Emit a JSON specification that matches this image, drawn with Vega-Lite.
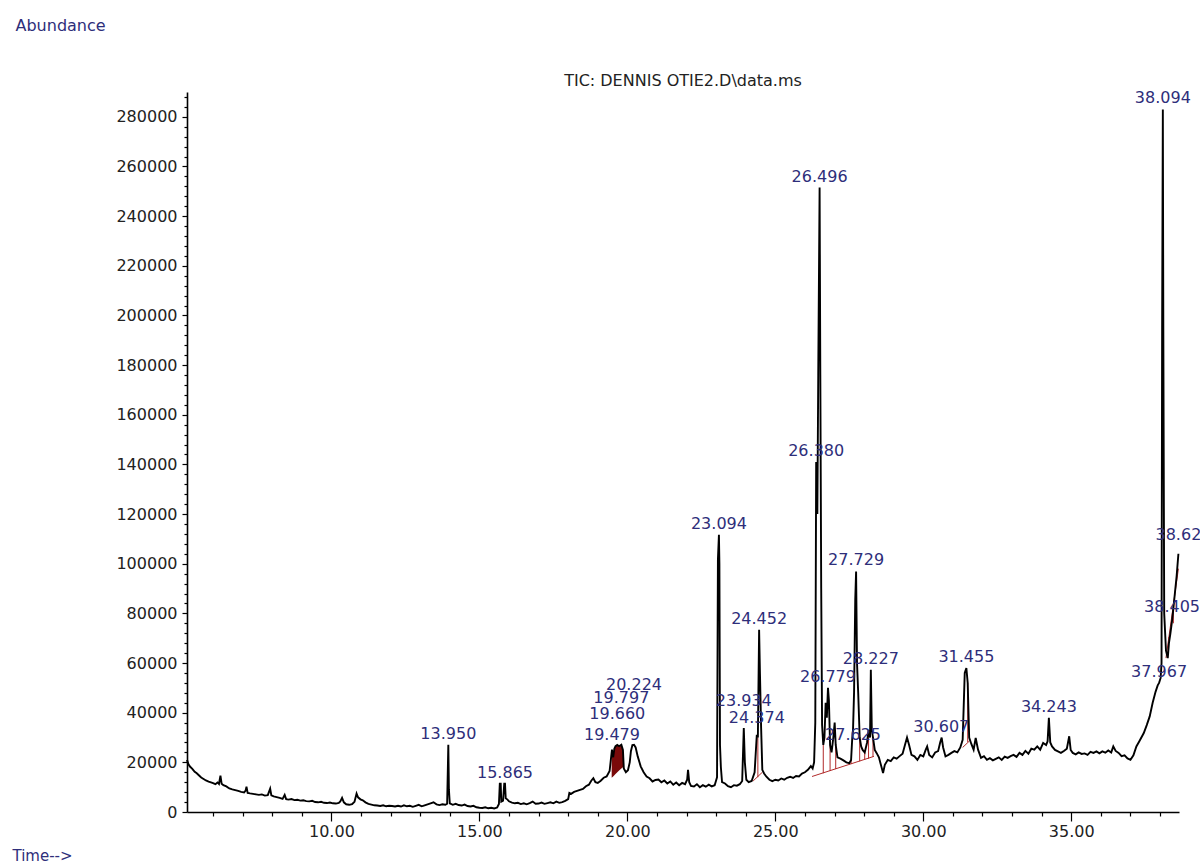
{
"$schema":"https://vega.github.io/schema/vega-lite/v6.json",
"width":992,"height":720,
"autosize":{"type":"none"},
"padding":{"left":187,"top":92,"right":21,"bottom":49},
"background":"white",
"config":{"view":{"stroke":null},"font":"DejaVu Sans","axis":{"grid":false,"domainColor":"#000","tickColor":"#000","labelColor":"#222","labelFont":"DejaVu Sans","titleFont":"DejaVu Sans"}},
"title":{"text":"TIC: DENNIS OTIE2.D\\data.ms","fontSize":16,"fontWeight":"normal","color":"#222","anchor":"middle","offset":4,"dy":76,"font":"DejaVu Sans"},
"datasets":{
"tic":[
{"t":5.12,"v":21000},{"t":5.17,"v":19200},{"t":5.22,"v":18300},{"t":5.3,"v":17400},{"t":5.38,"v":16200},{"t":5.45,"v":15600},{"t":5.52,"v":14800},{"t":5.6,"v":13900},{"t":5.68,"v":13300},{"t":5.76,"v":12700},{"t":5.85,"v":12200},{"t":5.93,"v":11900},{"t":6.0,"v":11600},{"t":6.08,"v":11200},{"t":6.15,"v":11900},{"t":6.2,"v":11300},{"t":6.25,"v":14600},{"t":6.29,"v":11400},{"t":6.35,"v":10800},{"t":6.45,"v":10300},{"t":6.55,"v":9500},{"t":6.65,"v":9100},{"t":6.75,"v":8800},{"t":6.85,"v":8500},{"t":6.95,"v":8100},{"t":7.05,"v":7900},{"t":7.1,"v":8600},{"t":7.13,"v":10200},{"t":7.17,"v":7700},{"t":7.25,"v":7500},{"t":7.35,"v":7300},{"t":7.45,"v":7100},{"t":7.55,"v":6900},{"t":7.65,"v":7100},{"t":7.75,"v":6600},{"t":7.85,"v":6800},{"t":7.93,"v":9400},{"t":7.97,"v":6700},{"t":8.05,"v":6300},{"t":8.15,"v":6000},{"t":8.25,"v":5700},{"t":8.35,"v":5300},{"t":8.42,"v":6900},{"t":8.47,"v":5200},{"t":8.55,"v":5000},{"t":8.65,"v":5200},{"t":8.75,"v":4800},{"t":8.85,"v":4900},{"t":8.95,"v":4600},{"t":9.05,"v":4700},{"t":9.15,"v":4400},{"t":9.25,"v":4300},{"t":9.35,"v":4500},{"t":9.45,"v":4000},{"t":9.55,"v":3900},{"t":9.65,"v":4100},{"t":9.75,"v":3700},{"t":9.85,"v":3600},{"t":9.95,"v":3800},{"t":10.05,"v":3500},{"t":10.15,"v":3400},{"t":10.25,"v":3700},{"t":10.3,"v":4300},{"t":10.36,"v":5700},{"t":10.42,"v":3900},{"t":10.5,"v":3100},{"t":10.6,"v":2900},{"t":10.7,"v":3200},{"t":10.78,"v":4100},{"t":10.85,"v":7400},{"t":10.9,"v":5900},{"t":10.98,"v":5100},{"t":11.06,"v":4700},{"t":11.15,"v":3900},{"t":11.25,"v":3300},{"t":11.35,"v":3000},{"t":11.45,"v":2700},{"t":11.55,"v":2600},{"t":11.65,"v":2400},{"t":11.75,"v":2700},{"t":11.85,"v":2300},{"t":11.95,"v":2500},{"t":12.05,"v":2400},{"t":12.15,"v":2200},{"t":12.25,"v":2500},{"t":12.35,"v":2200},{"t":12.45,"v":2700},{"t":12.55,"v":2300},{"t":12.65,"v":2500},{"t":12.75,"v":2100},{"t":12.85,"v":2500},{"t":12.95,"v":2900},{"t":13.05,"v":2300},{"t":13.15,"v":2700},{"t":13.25,"v":3100},{"t":13.35,"v":3500},{"t":13.45,"v":3900},{"t":13.55,"v":3100},{"t":13.65,"v":2800},{"t":13.75,"v":3100},{"t":13.85,"v":2900},{"t":13.91,"v":3300},{"t":13.93,"v":15000},{"t":13.95,"v":27100},{"t":13.97,"v":9000},{"t":14.0,"v":3500},{"t":14.1,"v":2900},{"t":14.2,"v":3300},{"t":14.3,"v":2800},{"t":14.4,"v":2600},{"t":14.5,"v":3000},{"t":14.6,"v":2400},{"t":14.7,"v":2200},{"t":14.8,"v":2500},{"t":14.9,"v":1900},{"t":15.0,"v":1700},{"t":15.1,"v":1600},{"t":15.2,"v":1900},{"t":15.3,"v":1500},{"t":15.4,"v":1700},{"t":15.5,"v":1400},{"t":15.6,"v":1800},{"t":15.66,"v":3200},{"t":15.69,"v":11400},{"t":15.72,"v":11400},{"t":15.74,"v":4200},{"t":15.8,"v":4600},{"t":15.84,"v":11400},{"t":15.865,"v":11400},{"t":15.89,"v":5500},{"t":15.95,"v":5000},{"t":16.0,"v":4300},{"t":16.1,"v":3800},{"t":16.2,"v":3500},{"t":16.3,"v":3700},{"t":16.4,"v":3200},{"t":16.5,"v":3500},{"t":16.6,"v":3100},{"t":16.7,"v":3600},{"t":16.8,"v":4200},{"t":16.9,"v":3300},{"t":17.0,"v":3400},{"t":17.1,"v":3800},{"t":17.2,"v":3300},{"t":17.3,"v":3600},{"t":17.4,"v":3900},{"t":17.5,"v":3500},{"t":17.6,"v":4200},{"t":17.7,"v":3700},{"t":17.8,"v":4000},{"t":17.9,"v":4500},{"t":18.0,"v":5200},{"t":18.04,"v":7700},{"t":18.1,"v":7300},{"t":18.2,"v":8100},{"t":18.3,"v":8500},{"t":18.4,"v":8900},{"t":18.5,"v":9300},{"t":18.6,"v":10400},{"t":18.7,"v":11000},{"t":18.78,"v":12600},{"t":18.85,"v":13600},{"t":18.92,"v":12000},{"t":19.0,"v":11700},{"t":19.1,"v":12600},{"t":19.2,"v":13800},{"t":19.3,"v":14300},{"t":19.4,"v":16500},{"t":19.479,"v":25100},{"t":19.52,"v":22000},{"t":19.56,"v":25500},{"t":19.6,"v":26500},{"t":19.66,"v":27000},{"t":19.72,"v":26500},{"t":19.797,"v":27100},{"t":19.85,"v":25000},{"t":19.88,"v":17500},{"t":19.95,"v":16000},{"t":20.02,"v":16800},{"t":20.08,"v":20000},{"t":20.12,"v":24500},{"t":20.17,"v":27000},{"t":20.224,"v":27100},{"t":20.28,"v":26000},{"t":20.35,"v":22400},{"t":20.45,"v":18400},{"t":20.55,"v":16000},{"t":20.65,"v":14300},{"t":20.75,"v":13600},{"t":20.85,"v":12300},{"t":20.95,"v":12900},{"t":21.05,"v":13100},{"t":21.15,"v":12000},{"t":21.25,"v":12700},{"t":21.35,"v":11500},{"t":21.45,"v":12300},{"t":21.55,"v":11000},{"t":21.65,"v":11900},{"t":21.75,"v":10800},{"t":21.85,"v":11700},{"t":21.95,"v":11200},{"t":22.02,"v":13000},{"t":22.05,"v":17000},{"t":22.09,"v":12000},{"t":22.15,"v":10500},{"t":22.25,"v":10300},{"t":22.35,"v":11200},{"t":22.45,"v":10000},{"t":22.55,"v":10800},{"t":22.65,"v":10200},{"t":22.75,"v":11000},{"t":22.85,"v":10300},{"t":22.95,"v":10800},{"t":23.03,"v":14000},{"t":23.06,"v":101700},{"t":23.094,"v":111700},{"t":23.11,"v":100000},{"t":23.13,"v":27000},{"t":23.16,"v":18000},{"t":23.2,"v":12000},{"t":23.3,"v":11500},{"t":23.4,"v":10400},{"t":23.5,"v":10000},{"t":23.6,"v":10800},{"t":23.7,"v":10600},{"t":23.8,"v":11200},{"t":23.88,"v":12500},{"t":23.934,"v":33800},{"t":23.97,"v":20000},{"t":24.02,"v":13000},{"t":24.1,"v":12000},{"t":24.2,"v":12500},{"t":24.3,"v":16000},{"t":24.374,"v":31100},{"t":24.41,"v":30000},{"t":24.452,"v":73400},{"t":24.48,"v":56000},{"t":24.52,"v":33800},{"t":24.56,"v":17000},{"t":24.62,"v":15500},{"t":24.7,"v":14200},{"t":24.8,"v":13000},{"t":24.9,"v":12400},{"t":25.0,"v":13000},{"t":25.1,"v":12700},{"t":25.2,"v":13500},{"t":25.3,"v":13000},{"t":25.4,"v":13800},{"t":25.5,"v":14200},{"t":25.6,"v":13700},{"t":25.7,"v":14500},{"t":25.8,"v":14300},{"t":25.9,"v":15500},{"t":26.0,"v":16000},{"t":26.1,"v":17000},{"t":26.2,"v":18500},{"t":26.26,"v":17500},{"t":26.31,"v":20000},{"t":26.35,"v":36000},{"t":26.38,"v":141000},{"t":26.42,"v":120000},{"t":26.45,"v":176000},{"t":26.496,"v":251500},{"t":26.52,"v":176000},{"t":26.55,"v":90000},{"t":26.58,"v":35000},{"t":26.62,"v":27000},{"t":26.66,"v":30000},{"t":26.7,"v":44000},{"t":26.74,"v":38000},{"t":26.779,"v":50000},{"t":26.81,"v":45000},{"t":26.85,"v":27000},{"t":26.9,"v":24000},{"t":26.96,"v":30000},{"t":27.005,"v":36000},{"t":27.04,"v":27000},{"t":27.1,"v":22000},{"t":27.2,"v":21500},{"t":27.3,"v":20800},{"t":27.4,"v":20000},{"t":27.5,"v":19700},{"t":27.56,"v":21000},{"t":27.6,"v":30000},{"t":27.625,"v":33000},{"t":27.66,"v":48000},{"t":27.7,"v":85500},{"t":27.729,"v":96900},{"t":27.76,"v":60000},{"t":27.8,"v":48000},{"t":27.85,"v":30000},{"t":27.9,"v":26400},{"t":27.95,"v":25000},{"t":28.02,"v":24000},{"t":28.1,"v":28000},{"t":28.15,"v":33000},{"t":28.2,"v":30000},{"t":28.227,"v":57300},{"t":28.26,"v":33000},{"t":28.3,"v":30000},{"t":28.36,"v":25000},{"t":28.42,"v":23800},{"t":28.5,"v":22000},{"t":28.58,"v":18400},{"t":28.64,"v":15700},{"t":28.7,"v":19000},{"t":28.8,"v":21000},{"t":28.9,"v":20500},{"t":29.0,"v":22000},{"t":29.1,"v":21500},{"t":29.2,"v":22500},{"t":29.3,"v":23500},{"t":29.38,"v":27000},{"t":29.45,"v":30000},{"t":29.52,"v":27000},{"t":29.6,"v":23000},{"t":29.7,"v":22400},{"t":29.8,"v":21000},{"t":29.9,"v":23000},{"t":30.0,"v":22400},{"t":30.08,"v":25000},{"t":30.13,"v":26400},{"t":30.2,"v":23000},{"t":30.3,"v":22000},{"t":30.4,"v":24000},{"t":30.5,"v":24500},{"t":30.57,"v":28000},{"t":30.62,"v":30000},{"t":30.67,"v":26000},{"t":30.75,"v":22400},{"t":30.85,"v":23000},{"t":30.95,"v":23800},{"t":31.05,"v":24500},{"t":31.15,"v":24000},{"t":31.25,"v":26000},{"t":31.33,"v":29100},{"t":31.4,"v":56000},{"t":31.455,"v":58000},{"t":31.5,"v":52000},{"t":31.55,"v":30000},{"t":31.62,"v":27500},{"t":31.7,"v":25100},{"t":31.77,"v":29800},{"t":31.85,"v":25100},{"t":31.95,"v":21800},{"t":32.05,"v":22500},{"t":32.15,"v":21000},{"t":32.25,"v":21700},{"t":32.35,"v":20800},{"t":32.45,"v":21400},{"t":32.55,"v":22000},{"t":32.65,"v":21000},{"t":32.75,"v":22300},{"t":32.85,"v":21800},{"t":32.95,"v":22500},{"t":33.05,"v":23000},{"t":33.15,"v":22200},{"t":33.25,"v":23800},{"t":33.35,"v":23000},{"t":33.45,"v":24600},{"t":33.55,"v":23500},{"t":33.65,"v":25500},{"t":33.75,"v":25100},{"t":33.85,"v":26400},{"t":33.95,"v":25100},{"t":34.05,"v":27800},{"t":34.15,"v":27000},{"t":34.2,"v":28500},{"t":34.243,"v":37900},{"t":34.29,"v":28000},{"t":34.35,"v":26400},{"t":34.45,"v":25000},{"t":34.55,"v":24400},{"t":34.65,"v":23800},{"t":34.75,"v":24600},{"t":34.85,"v":25500},{"t":34.93,"v":30500},{"t":34.98,"v":25000},{"t":35.05,"v":23800},{"t":35.15,"v":23200},{"t":35.25,"v":24000},{"t":35.35,"v":23400},{"t":35.45,"v":23600},{"t":35.55,"v":23000},{"t":35.65,"v":24200},{"t":35.75,"v":23800},{"t":35.85,"v":24400},{"t":35.95,"v":23600},{"t":36.05,"v":24400},{"t":36.15,"v":23900},{"t":36.25,"v":24800},{"t":36.35,"v":24000},{"t":36.42,"v":26400},{"t":36.5,"v":24600},{"t":36.6,"v":23800},{"t":36.7,"v":22500},{"t":36.8,"v":22800},{"t":36.9,"v":21600},{"t":37.0,"v":21000},{"t":37.1,"v":22800},{"t":37.2,"v":26400},{"t":37.3,"v":28500},{"t":37.45,"v":31800},{"t":37.55,"v":35000},{"t":37.65,"v":38500},{"t":37.75,"v":44000},{"t":37.85,"v":48500},{"t":37.92,"v":51000},{"t":37.967,"v":52000},{"t":38.02,"v":54000},{"t":38.05,"v":60000},{"t":38.07,"v":196000},{"t":38.094,"v":283000},{"t":38.11,"v":196000},{"t":38.14,"v":80000},{"t":38.2,"v":65000},{"t":38.26,"v":62000},{"t":38.3,"v":68000},{"t":38.35,"v":72000},{"t":38.405,"v":77000},{"t":38.45,"v":82000},{"t":38.5,"v":88000},{"t":38.56,"v":95000},{"t":38.62,"v":104000}
],
"fill":[
{"t":19.47,"top":24000,"base":13800},{"t":19.52,"top":22000,"base":14300},{"t":19.56,"top":25500,"base":14800},{"t":19.6,"top":26500,"base":15300},{"t":19.66,"top":27000,"base":16000},{"t":19.72,"top":26500,"base":16700},{"t":19.797,"top":27100,"base":17500},{"t":19.85,"top":25000,"base":18000},{"t":19.88,"top":18400,"base":18400}
],
"baselines":[
{"t1":26.24,"v1":14300,"t2":28.33,"v2":22400},
{"t1":24.25,"v1":12500,"t2":24.56,"v2":16000},
{"t1":31.33,"v1":26000,"t2":31.55,"v2":28500},
{"t1":38.2,"v1":62000,"t2":38.62,"v2":98000}
],
"drops":[
{"t":26.62,"v1":15600,"v2":27000},{"t":26.85,"v1":16500,"v2":27000},{"t":27.04,"v1":17300,"v2":27000},{"t":27.56,"v1":19300,"v2":21000},{"t":27.85,"v1":20400,"v2":30000},{"t":28.02,"v1":21000,"v2":24000},{"t":28.15,"v1":21500,"v2":33000},{"t":28.3,"v1":22200,"v2":30000},{"t":24.41,"v1":14000,"v2":30000},{"t":31.5,"v1":28200,"v2":52000},{"t":38.3,"v1":70500,"v2":68000},{"t":38.45,"v1":82000,"v2":76000}
],
"peaks":[
{"t":13.95,"v":27100,"label":"13.950"},{"t":15.865,"v":11400,"label":"15.865"},{"t":19.479,"v":26700,"label":"19.479"},{"t":19.66,"v":35200,"label":"19.660"},{"t":19.797,"v":41600,"label":"19.797"},{"t":20.224,"v":46900,"label":"20.224"},{"t":23.094,"v":111700,"label":"23.094"},{"t":23.934,"v":40100,"label":"23.934"},{"t":24.374,"v":33600,"label":"24.374"},{"t":24.452,"v":73400,"label":"24.452"},{"t":26.38,"v":141000,"label":"26.380"},{"t":26.496,"v":251500,"label":"26.496"},{"t":26.779,"v":50100,"label":"26.779"},{"t":27.625,"v":26700,"label":"27.625"},{"t":27.729,"v":96900,"label":"27.729"},{"t":28.227,"v":57300,"label":"28.227"},{"t":30.607,"v":30000,"label":"30.607"},{"t":31.455,"v":58000,"label":"31.455"},{"t":34.243,"v":37900,"label":"34.243"},{"t":37.967,"v":52100,"label":"37.967"},{"t":38.094,"v":283000,"label":"38.094"},{"t":38.405,"v":78300,"label":"38.405"},{"t":38.62,"v":107300,"label":"38.62"}
]
},
"layer":[
{"data":{"name":"fill"},"mark":{"type":"area","color":"#7a0a0a"},
 "encoding":{"x":{"field":"t","type":"quantitative","scale":{"domain":[5.12,38.64],"nice":false,"zero":false},"axis":null},
 "y":{"field":"top","type":"quantitative","scale":{"domain":[0,290000],"nice":false},"axis":null},"y2":{"field":"base"}}},
{"data":{"name":"baselines"},"mark":{"type":"rule","color":"#b02a2a","strokeWidth":1},
 "encoding":{"x":{"field":"t1","type":"quantitative","scale":{"domain":[5.12,38.64],"nice":false,"zero":false},
   "axis":{"orient":"bottom","values":[6,7,8,9,11,12,13,14,16,17,18,19,21,22,23,24,26,27,28,29,31,32,33,34,36,37,38],"tickSize":4,"tickWidth":1.2,"labels":false,"domain":false,"title":null}},
 "x2":{"field":"t2"},
 "y":{"field":"v1","type":"quantitative","scale":{"domain":[0,290000],"nice":false},
   "axis":{"orient":"left","values":[4000,8000,12000,16000,24000,28000,32000,36000,44000,48000,52000,56000,64000,68000,72000,76000,84000,88000,92000,96000,104000,108000,112000,116000,124000,128000,132000,136000,144000,148000,152000,156000,164000,168000,172000,176000,184000,188000,192000,196000,204000,208000,212000,216000,224000,228000,232000,236000,244000,248000,252000,256000,264000,268000,272000,276000,284000,288000],"tickSize":3,"tickWidth":1.2,"labels":false,"domain":false,"title":null}},
 "y2":{"field":"v2"}}},
{"data":{"name":"drops"},"mark":{"type":"rule","color":"#b02a2a","strokeWidth":1},
 "encoding":{"x":{"field":"t","type":"quantitative","scale":{"domain":[5.12,38.64],"nice":false,"zero":false},"axis":null},
 "y":{"field":"v1","type":"quantitative","scale":{"domain":[0,290000],"nice":false},"axis":null},"y2":{"field":"v2"}}},
{"data":{"name":"tic"},"mark":{"type":"line","color":"#000","strokeWidth":1.9},
 "encoding":{"x":{"field":"t","type":"quantitative","scale":{"domain":[5.12,38.64],"nice":false,"zero":false},
   "axis":{"orient":"bottom","values":[10,15,20,25,30,35],"format":".2f","tickSize":9,"tickWidth":1.2,"domainWidth":1.6,"labelFontSize":16,"labelPadding":2,"title":"Time-->","titleX":-175,"titleY":36,"titleAlign":"left","titleBaseline":"top","titleFontSize":15,"titleFontWeight":"normal","titleColor":"#2e2e7a"}},
 "y":{"field":"v","type":"quantitative","scale":{"domain":[0,290000],"nice":false},
   "axis":{"orient":"left","values":[0,20000,40000,60000,80000,100000,120000,140000,160000,180000,200000,220000,240000,260000,280000],"format":"d","tickSize":5,"tickWidth":1.2,"domainWidth":1.6,"labelFontSize":16,"labelPadding":5,"title":"Abundance","titleX":-172,"titleY":-67,"titleAngle":0,"titleAlign":"left","titleBaseline":"middle","titleFontSize":16,"titleFontWeight":"normal","titleColor":"#2e2e7a"}}}},
{"data":{"name":"peaks"},"mark":{"type":"text","baseline":"middle","align":"center","dy":-11,"fontSize":16,"color":"#2e2e7a","font":"DejaVu Sans"},
 "encoding":{"x":{"field":"t","type":"quantitative","scale":{"domain":[5.12,38.64],"nice":false,"zero":false},"axis":null},
 "y":{"field":"v","type":"quantitative","scale":{"domain":[0,290000],"nice":false},"axis":null},
 "text":{"field":"label","type":"nominal"}}}
],
"resolve":{"axis":{"x":"independent","y":"independent"}}
}
